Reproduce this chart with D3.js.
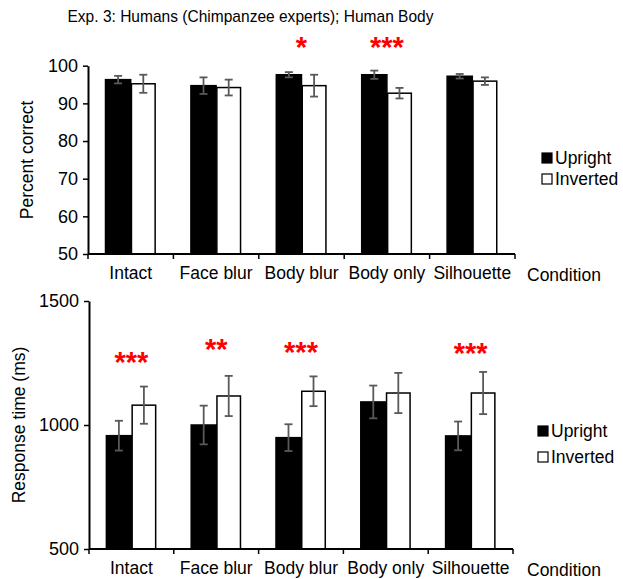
<!DOCTYPE html>
<html><head><meta charset="utf-8">
<script src="https://cdn.jsdelivr.net/npm/d3@7"></script>
<style>body{margin:0;background:#fff}svg{display:block}text{font-family:"Liberation Sans",Arial,sans-serif;fill:#000}</style>
</head><body><svg id="c" width="623" height="579"></svg>
<script>
const categories = ["Intact","Face blur","Body blur","Body only","Silhouette"];
const series = ["Upright","Inverted"];
const accUpright = [96.3,94.7,97.6,97.6,97.2];
const accUprightErr = [1.0,2.2,0.7,1.1,0.6];
const accInverted = [95.2,94.2,94.7,92.7,95.9];
const accInvertedErr = [2.4,2.1,2.9,1.4,1.0];
const accStars = ["","","*","***",""];
const rtUpright = [957,1000,949,1093,956];
const rtUprightErr = [60,78,54,66,58];
const rtInverted = [1080,1117,1136,1129,1129];
const rtInvertedErr = [75,81,60,81,85];
const rtStars = ["***","**","***","","***"];
const accTicks = [50,60,70,80,90,100];
const rtTicks = [500,1000,1500];

const svg = d3.select("#c");
svg.append("text").attr("x",250.5).attr("y",22).attr("text-anchor","middle")
  .attr("font-size",17).attr("textLength",366).attr("lengthAdjust","spacingAndGlyphs")
  .text("Exp. 3: Humans (Chimpanzee experts); Human Body");

function panel(o){
  const x = d3.scaleBand().domain(categories).range([o.x0,o.x1]).paddingInner(0.41).paddingOuter(0.205);
  const xs = d3.scaleBand().domain(series).range([0,x.bandwidth()]);
  const y = d3.scaleLinear().domain(o.domain).range([o.y0,o.y1]);
  const g = svg.append("g");
  const data = categories.map((c,i)=>({c,i,vals:[
    {s:"Upright",v:o.up[i],e:o.upE[i]},{s:"Inverted",v:o.inv[i],e:o.invE[i]}]}));
  const grp = g.selectAll("g.cat").data(data).join("g").attr("transform",d=>`translate(${x(d.c)},0)`);
  grp.selectAll("rect").data(d=>d.vals).join("rect")
    .attr("x",d=>xs(d.s)+(d.s==="Inverted"?0.75:0)).attr("width",d=>xs.bandwidth()-(d.s==="Inverted"?1.5:0))
    .attr("y",d=>y(d.v)).attr("height",d=>y(o.domain[0])-y(d.v))
    .attr("fill",d=>d.s==="Upright"?"#000":"#fff").attr("stroke","#000").attr("stroke-width",1.5);
  const eb = grp.selectAll("g.eb").data(d=>d.vals).join("g").attr("stroke","#595959").attr("stroke-width",1.8);
  eb.append("line").attr("x1",d=>xs(d.s)+xs.bandwidth()/2).attr("x2",d=>xs(d.s)+xs.bandwidth()/2)
    .attr("y1",d=>y(d.v+d.e)).attr("y2",d=>y(d.v-d.e));
  eb.append("line").attr("x1",d=>xs(d.s)+xs.bandwidth()/2-4).attr("x2",d=>xs(d.s)+xs.bandwidth()/2+4)
    .attr("y1",d=>y(d.v+d.e)).attr("y2",d=>y(d.v+d.e));
  eb.append("line").attr("x1",d=>xs(d.s)+xs.bandwidth()/2-4).attr("x2",d=>xs(d.s)+xs.bandwidth()/2+4)
    .attr("y1",d=>y(d.v-d.e)).attr("y2",d=>y(d.v-d.e));
  g.selectAll("text.star").data(data.filter(d=>o.stars[d.i])).join("text")
    .attr("x",d=>x(d.c)+x.bandwidth()/2).attr("y",d=>y(o.starY[d.i]))
    .attr("text-anchor","middle").attr("font-size",29).style("fill","#f00").attr("font-weight","bold")
    .text(d=>o.stars[d.i]);
  const ya = g.append("g").attr("transform",`translate(${o.x0},0)`)
    .call(d3.axisLeft(y).tickValues(o.ticks).tickFormat(d3.format("d")).tickSize(5).tickSizeOuter(0).tickPadding(5));
  ya.select(".domain").attr("stroke","#000").attr("stroke-width",2);
  ya.selectAll(".tick line").attr("stroke","#000").attr("stroke-width",1.5);
  ya.selectAll(".tick text").attr("font-size",18).attr("font-family","Liberation Sans, Arial, sans-serif").style("fill","#000");
  const bounds = d3.range(categories.length+1).map(i=>o.x0+i*(o.x1-o.x0)/categories.length);
  g.append("line").attr("x1",o.x0).attr("x2",o.x1).attr("y1",o.y0).attr("y2",o.y0).attr("stroke","#000").attr("stroke-width",2);
  g.selectAll("line.bt").data(bounds).join("line").attr("x1",d=>d).attr("x2",d=>d)
    .attr("y1",o.y0).attr("y2",o.y0+5).attr("stroke","#000").attr("stroke-width",1.5);
  g.selectAll("text.cl").data(categories).join("text")
    .attr("x",d=>x(d)+x.bandwidth()/2).attr("y",o.y0+25).attr("text-anchor","middle")
    .attr("font-size",17.5).text(d=>d);
  g.append("text").attr("x",527).attr("y",o.y0+27).attr("font-size",17.5).text("Condition");
  g.append("text").attr("transform",`translate(${o.ylx},${(o.y0+o.y1)/2}) rotate(-90)`)
    .attr("text-anchor","middle").attr("font-size",17.5).text(o.ylabel);
  series.forEach((s,i)=>{
    const ly = o.legY + i*o.legGap;
    g.append("rect").attr("x",o.legX).attr("y",ly-5).attr("width",10).attr("height",10)
      .attr("fill",s==="Upright"?"#000":"#fff").attr("stroke","#000").attr("stroke-width",1.2);
    g.append("text").attr("x",o.legX+13).attr("y",ly+6).attr("font-size",17.5).text(s);
  });
}

panel({x0:88,x1:515,y0:254,y1:65.7,domain:[50,100],ticks:accTicks,
  up:accUpright,upE:accUprightErr,inv:accInverted,invE:accInvertedErr,
  stars:accStars,starY:[0,0,102.3,102.3,0],ylabel:"Percent correct",ylx:33,
  legX:542,legY:158,legGap:21});
panel({x0:89,x1:513,y0:549,y1:301,domain:[500,1500],ticks:rtTicks,
  up:rtUpright,upE:rtUprightErr,inv:rtInverted,invE:rtInvertedErr,
  stars:rtStars,starY:[1215,1265,1255,0,1250],ylabel:"Response time (ms)",ylx:25,
  legX:538,legY:431,legGap:26});
</script></body></html>
